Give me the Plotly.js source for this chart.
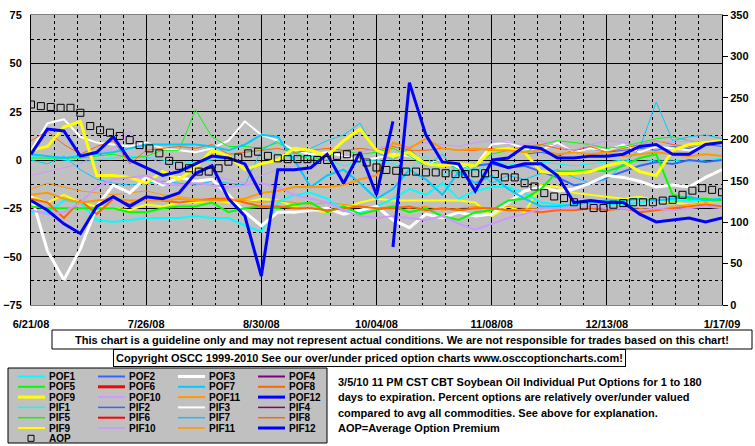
<!DOCTYPE html>
<html><head><meta charset="utf-8">
<script src="https://cdn.plot.ly/plotly-3.0.1.min.js"></script>
<style>html,body{margin:0;padding:0;background:#fff;}#chart{width:755px;height:446px;}</style>
</head><body><div id="chart"></div>
<script>
// ---- data ----
const dates5 = ['2008-06-21','2008-06-26','2008-07-01','2008-07-06','2008-07-11','2008-07-16','2008-07-21','2008-07-26','2008-07-31','2008-08-05','2008-08-10','2008-08-15','2008-08-20','2008-08-25','2008-08-30','2008-09-04','2008-09-09','2008-09-14','2008-09-19','2008-09-24','2008-09-29','2008-10-04','2008-10-09','2008-10-14','2008-10-19','2008-10-24','2008-10-29','2008-11-03','2008-11-08','2008-11-13','2008-11-18','2008-11-23','2008-11-28','2008-12-03','2008-12-08','2008-12-13','2008-12-18','2008-12-23','2008-12-28','2009-01-02','2009-01-07','2009-01-12','2009-01-17'];
const datesPOF2 = dates5.slice(27);
const datesPIF2 = dates5.slice(30);
const aopDates = ['2008-06-21','2008-06-24','2008-06-27','2008-06-30','2008-07-03','2008-07-06','2008-07-09','2008-07-12','2008-07-15','2008-07-18','2008-07-21','2008-07-24','2008-07-27','2008-07-30','2008-08-02','2008-08-05','2008-08-08','2008-08-11','2008-08-14','2008-08-17','2008-08-20','2008-08-23','2008-08-26','2008-08-29','2008-09-01','2008-09-04','2008-09-07','2008-09-10','2008-09-13','2008-09-16','2008-09-19','2008-09-22','2008-09-25','2008-09-28','2008-10-01','2008-10-04','2008-10-07','2008-10-10','2008-10-13','2008-10-16','2008-10-19','2008-10-22','2008-10-25','2008-10-28','2008-10-31','2008-11-03','2008-11-06','2008-11-09','2008-11-12','2008-11-15','2008-11-18','2008-11-21','2008-11-24','2008-11-27','2008-11-30','2008-12-03','2008-12-06','2008-12-09','2008-12-12','2008-12-15','2008-12-18','2008-12-21','2008-12-24','2008-12-27','2008-12-30','2009-01-02','2009-01-05','2009-01-08','2009-01-11','2009-01-14','2009-01-17'];

const POF1 = [-27,-27,-21,-22,-31,-32,-31,-30,-30,-30,-29,-30,-30,-34,-37,-22,-18,-17,-20,-26,-27,-24,-20,-15,-18,-12,-20,-16,-14,-14,-17,-22,-23,-23,-22,-23,-23,-22,-21,-21,-21,-21,-20];
const POF2 = [-3,-2,-4,-3,-6,-9,-13,-12,-9,-6,-3,-1,-2,0,-1,0];
const POF3 = [-18,-47,-62,-46,-24,-13,-17,-9,-13,-9,-11,-10,-18,-27,-34,-27,-27,-26,-25,-28,-26,-24,-31,-35,-28,-30,-27,-29,-28,-22,-16,-14,-16,-15,-12,-8,-9,-11,-14,-13,-14,-9,-5];
const POF4 = [];
const POF5 = [-24,-25,-25,-25,-25,-25,-27,-27,-25,-24,-24,-22,-27,-25,-24,-25,-23,-22,-27,-24,-28,-26,-24,-27,-25,-29,-31,-27,-26,-21,-20,-15,-6,-6,-5,-6,-3,1,3,-18,-20,-20,-21];
const POF6 = [];
const POF7 = [3,2,1,2,3,4,6,8,8,8,8,7,5,8,13,12,0,-14,-8,-5,-12,-20,-15,-5,-10,-18,-6,-12,-8,-15,-20,-24,-24,-23,-22,-21,-21,-20,-21,-20,-19,-21,-20];
const POF8 = [-20,-22,-30,-21,-28,-20,-23,-19,-21,-22,-21,-20,-20,-22,-24,-24,-25,-25,-26,-25,-24,-25,-25,-24,-26,-25,-26,-25,-25,-26,-26,-27,-26,-26,-25,-26,-25,-27,-26,-25,-24,-23,-24];
const POF9 = [5,7,17,20,-8,-8,-9,-12,-6,-10,-4,5,2,-5,-2,0,6,5,2,10,16,5,2,4,-2,-3,-2,-3,5,6,4,-6,-7,-7,-6,-3,-1,-6,-8,5,8,9,10];
const POF10 = [-26,-28,-27,-22,-14,-10,-9,-8,-12,-13,-12,-13,-14,-13,-12,-14,-18,-20,-22,-26,-29,-30,-29,-30,-31,-29,-33,-36,-33,-30,-28,-25,-25,-25,-24,-25,-25,-26,-25,-26,-25,-24,-25];
const POF11 = [-18,-17,-20,-22,-21,-20,-21,-21,-21,-20,-21,-21,-21,-20,-17,-16,-14,-14,-14,-13,-10,-8,9,6,11,6,5,6,5,5,4,5,3,4,3,4,2,3,4,3,2,3,2];
const POF12 = [-21,-26,-33,-38,-24,-19,-24,-19,-20,-17,-7,-3,-20,-29,-60,-5,-5,-4,3,-12,4,-18,20,null,null,null,null,null,0,1,7,6,1,1,2,2,3,7,8,3,3,8,9];

const PIF1 = [2,1,0,-1,0,1,2,1,0,-2,-1,0,2,4,5,3,1,2,0,-3,-1,0,-2,-5,2,-8,-3,-6,-1,-2,-3,-1,-2,-3,-2,-1,0,-1,0,0,-1,0,1];
const PIF2 = [3,4,2,5,6,4,5,6,5,7,6,8,7];
const PIF3 = [5,19,21,12,9,8,7,9,6,5,4,6,10,20,13,10,5,3,4,2,0,1,3,2,-2,0,-4,-3,8,9,6,5,9,4,6,5,8,4,7,6,5,8,10];
const PIF4 = [];
const PIF5 = [1,1,1,1,2,3,1,2,5,5,26,12,7,7,6,9,4,0,2,5,3,4,6,2,-3,0,-5,-2,3,5,4,8,10,9,8,6,7,9,11,12,10,8,9];
const PIF6 = [];
const PIF7 = [0,-2,2,-5,-10,-12,-13,-12,-11,-12,-13,-11,-12,-13,5,10,3,6,10,13,19,4,0,6,-3,3,-8,-4,-12,-8,-10,-7,-5,-9,-12,-10,-2,6,30,10,12,13,11];
const PIF8 = [10,15,8,3,7,10,-2,5,6,7,6,8,3,4,5,6,4,5,6,5,6,5,7,5,5,6,5,5,6,5,7,8,6,5,7,4,6,8,10,8,7,9,10];
const PIF9 = [-19,-22,-18,-22,-24,-25,-26,-23,-24,-22,-22,-21,-22,-22,-20,-21,-24,-26,-27,-25,-22,-20,-21,-21,-21,-21,-21,-22,-29,-24,-27,-13,-14,-17,-18,-19,-20,-19,-21,-22,-23,-22,-21];
const PIF10 = [-8,-6,-4,-2,3,6,15,2,-2,-4,-6,-8,-10,-12,-8,-5,-3,-1,0,2,4,6,8,7,9,8,7,9,10,9,8,10,7,5,8,10,9,8,10,9,10,9,10];
const PIF11 = [-15,-12,-14,-16,-17,-18,-17,-16,-18,-19,-20,-21,-20,-21,-22,-21,-22,-23,-22,-23,-24,-25,-24,-25,-24,-26,-25,-24,-25,-24,-25,-25,-24,-25,-24,-25,-24,-25,-26,-24,-23,-22,-21];
const PIF12 = [3,16,15,2,4,12,0,-4,-8,-6,-2,2,1,-2,-18,null,null,null,null,null,null,null,-45,40,13,-1,-2,-16,-1,-4,-2,-2,-8,-22,-21,-22,-22,-28,-32,-31,-30,-32,-30];

const AOP = [242,240,239,238,238,232,216,211,208,204,199,193,189,183,174,168,165,161,161,165,173,178,183,185,180,177,176,176,176,175,175,180,182,177,172,166,163,162,161,161,160,160,159,158,158,159,159,158,154,154,147,143,135,131,129,124,120,117,117,121,123,124,124,124,126,127,133,138,141,139,136];

const seriesNames = ['POF1','POF2','POF3','POF4','POF5','POF6','POF7','POF8','POF9','POF10','POF11','POF12','PIF1','PIF2','PIF3','PIF4','PIF5','PIF6','PIF7','PIF8','PIF9','PIF10','PIF11','PIF12'];
const seriesY = [POF1,POF2,POF3,POF4,POF5,POF6,POF7,POF8,POF9,POF10,POF11,POF12,PIF1,PIF2,PIF3,PIF4,PIF5,PIF6,PIF7,PIF8,PIF9,PIF10,PIF11,PIF12];
const seriesX = {POF2: datesPOF2, PIF2: datesPIF2};

const xTickStart = '2008-06-21';
const infoLines = ['3/5/10 11 PM CST CBT Soybean Oil Individual Put Options for 1 to 180',
  'days to expiration. Percent options are relatively over/under valued',
  'compared to avg all commodities. See above for explanation.',
  'AOP=Average Option Premium'];
const disclaimer = 'This chart is a guideline only and may not represent actual conditions. We are not responsible for trades based on this chart!';
const copyright = 'Copyright OSCC 1999-2010 See our over/under priced option charts www.osccoptioncharts.com!';

// ---- styles ----
const palette = ['#00FFFF','#3366FF','#FFFFFF','#800080','#00FF00','#FF0000','#00CCFF','#FF6600','#FFFF00','#CC99FF','#FF9900','#0000FF'];
const pofWidth = [2,2,3,2,2,3,2,2,3,2,2,3];
const pifWidth = [1,1,2,1,1,2,1,1,2,1,1,3];
const FONT = 'Liberation Sans, Arial, sans-serif';

const traces = [];
const order = [];
for (let i = 12; i < 23; i++) order.push(i);
for (let i = 0; i < 11; i++) order.push(i);
order.push(23, 11);
order.forEach(i => {
  const nm = seriesNames[i];
  const ys = seriesY[i];
  const xs = seriesX[nm] || dates5.slice(0, ys.length);
  traces.push({type:'scatter', mode:'lines', name:nm, x:xs, y:ys, yaxis:'y', connectgaps:false,
    line:{color: palette[i % 12], width: i < 12 ? pofWidth[i] : pifWidth[i-12]}, showlegend:false});
});
traces.push({type:'scatter', mode:'markers', name:'AOP', x:aopDates, y:AOP, yaxis:'y2', showlegend:false,
  marker:{symbol:'square-open', size:7, color:'#000', line:{width:1, color:'#000'}}});

// ---- layout helpers (pixel -> paper) ----
const L=31, R=722, T=15, B=305;
const px = x => (x-L)/(R-L);
const py = y => (B-y)/(B-T);

const shapes = [];
const annotations = [];
// legend box
shapes.push({type:'rect', xref:'paper', yref:'paper', x0:px(8), x1:px(327), y0:py(368), y1:py(443), fillcolor:'#C0C0C0', line:{color:'#000', width:1}});
const legendItems = seriesNames.concat(['AOP']);
legendItems.forEach((nm, j) => {
  const col = j % 4, row = Math.floor(j / 4);
  const yc = 376.5 + row * 10.3;
  const xl = 18 + col * 80;
  if (nm === 'AOP') {
    shapes.push({type:'rect', xref:'paper', yref:'paper', x0:px(28), x1:px(34), y0:py(yc-3), y1:py(yc+3), line:{color:'#000', width:1}});
  } else {
    const i = seriesNames.indexOf(nm);
    const w = i < 12 ? pofWidth[i] : pifWidth[i-12];
    shapes.push({type:'line', xref:'paper', yref:'paper', x0:px(xl), x1:px(xl+27), y0:py(yc), y1:py(yc), line:{color: palette[i % 12], width: Math.max(w, 1.5)}});
  }
  annotations.push({xref:'paper', yref:'paper', x:px(xl+29), y:py(yc), xanchor:'left', yanchor:'middle', showarrow:false,
    text:nm, font:{family:FONT, size:10, color:'#000', weight:'bold'}});
});
// info text
infoLines.forEach((t, j) => {
  annotations.push({xref:'paper', yref:'paper', x:px(336), y:py(382 + j*15.4), xanchor:'left', yanchor:'middle', showarrow:false,
    text:t, font:{family:FONT, size:11, color:'#000', weight:'bold'}});
});
// disclaimer + copyright boxes
shapes.push({type:'rect', xref:'paper', yref:'paper', x0:px(52), x1:px(752), y0:py(330), y1:py(349), fillcolor:'#fff', line:{color:'#000', width:1}});
annotations.push({xref:'paper', yref:'paper', x:px(402), y:py(339.5), xanchor:'center', yanchor:'middle', showarrow:false,
  text:disclaimer, font:{family:FONT, size:11, color:'#000', weight:'bold'}});
annotations.push({xref:'paper', yref:'paper', x:px(113), y:py(349), xanchor:'left', yanchor:'top', showarrow:false,
  text:copyright, font:{family:FONT, size:11, color:'#000', weight:'bold'}, bgcolor:'#fff', bordercolor:'#000', borderwidth:1, borderpad:2});

const tickFont = {family:FONT, size:11, color:'#000', weight:'bold'};
const DAY = 86400000;
const layout = {
  width:755, height:446,
  margin:{l:L, r:755-R, t:T, b:446-B},
  paper_bgcolor:'#fff', plot_bgcolor:'#C0C0C0',
  showlegend:false,
  xaxis:{type:'date', range:['2008-06-21','2009-01-17'], tick0:xTickStart, dtick:35*DAY, tickformat:'%-m/%d/%y',
    showgrid:true, gridcolor:'#000', gridwidth:1, ticks:'', ticklabelstandoff:9, tickfont:tickFont,
    showline:true, linecolor:'#808080', mirror:true, zeroline:false,
    minor:{tick0:xTickStart, dtick:7*DAY, showgrid:true, gridcolor:'#000', griddash:'3px,3px', gridwidth:1, ticks:''}},
  yaxis:{range:[-75,75], tick0:0, dtick:25, showgrid:true, gridcolor:'#000', gridwidth:1, zeroline:false,
    ticks:'', ticklabelstandoff:6, tickfont:tickFont, showline:true, linecolor:'#000',
    minor:{dtick:12.5, showgrid:true, gridcolor:'#000', griddash:'3px,3px', gridwidth:1, ticks:''}},
  yaxis2:{overlaying:'y', side:'right', range:[0,350], dtick:50, showgrid:false, zeroline:false,
    ticks:'outside', ticklen:5, tickcolor:'#000', tickfont:tickFont, showline:true, linecolor:'#000'},
  shapes:shapes, annotations:annotations
};
Plotly.newPlot('chart', traces, layout, {displayModeBar:false, staticPlot:true});
</script></body></html>
